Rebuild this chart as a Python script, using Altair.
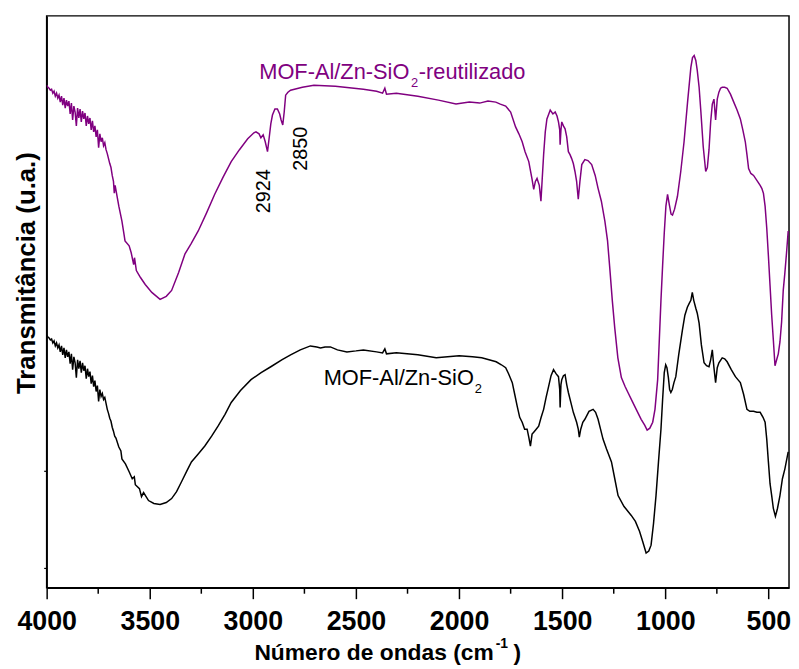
import altair as alt
import pandas as pd

# ---------------- data ----------------
wn_reuse = [4000, 3994, 3988, 3982, 3976, 3970, 3964, 3958, 3952, 3946, 3940, 3934, 3928, 3922, 3916,
            3910, 3904, 3898, 3892, 3886, 3880, 3874, 3868, 3862, 3856, 3850, 3844, 3838, 3832, 3826,
            3820, 3814, 3808, 3802, 3796, 3790, 3784, 3778, 3772, 3766, 3760, 3754, 3748, 3742, 3736,
            3730, 3724, 3718, 3712, 3706, 3700, 3694, 3688, 3682, 3676, 3672, 3668,
            3650, 3635, 3626, 3620, 3600, 3590, 3578, 3574, 3565, 3545, 3522, 3490, 3450, 3420, 3394, 3360,
            3329, 3300, 3265, 3225, 3185, 3145, 3105, 3065, 3025, 2995, 2985, 2970, 2961, 2950, 2940,
            2929, 2922, 2913, 2905, 2893, 2881, 2870, 2863, 2855, 2848, 2841, 2830, 2817, 2760, 2704,
            2600, 2464, 2400, 2371, 2360, 2352, 2304, 2200, 2100, 2015, 1950, 1900, 1860, 1822, 1800,
            1774, 1750, 1726, 1710, 1694, 1680, 1662, 1646, 1638, 1630, 1622, 1611, 1603, 1597, 1590,
            1582, 1574, 1565, 1558, 1545, 1534, 1525, 1518, 1512, 1510, 1506, 1502, 1494, 1486, 1478,
            1470, 1462, 1454, 1446, 1438, 1430, 1422, 1414, 1405, 1390, 1375, 1357, 1340, 1326, 1310,
            1293, 1280, 1269, 1257, 1245, 1230, 1213, 1195, 1181, 1160, 1141, 1117, 1100, 1088, 1075,
            1061, 1050, 1037, 1029, 1021, 1013, 1005, 997, 989, 980, 972, 965, 955, 941, 925,
            909, 892, 876, 868, 860, 852, 845, 836, 828, 816, 804, 796, 788, 780, 772,
            764, 756, 748, 740, 732, 724, 712, 700, 684, 668, 652, 636, 624, 612, 604,
            596, 585, 572, 556, 540, 532, 524, 516, 508, 500, 492, 484, 476, 468, 460,
            452, 444, 436, 428, 420, 412, 404]
t_reuse = [507, 505, 504, 502, 503, 499, 501, 496, 499, 494, 497, 490, 496, 487, 494,
           484, 492, 486, 491, 478, 489, 472, 486, 480, 466, 484, 474, 483, 470, 481,
           473, 479, 466, 476, 468, 474, 462, 471, 460, 466, 455, 462, 444, 458, 450,
           454, 446, 449, 442, 438, 433, 428, 424, 416, 410, 398, 406,
           385, 370, 358, 350, 345, 338, 326, 333, 320, 313, 306, 298, 291, 294, 300, 318,
           337, 347, 360, 378, 397, 414, 430, 442, 453, 459, 460, 458, 454, 457, 450,
           440, 452, 468, 477, 483, 483, 478, 472, 467, 480, 497, 500, 502, 505, 507,
           506, 503, 501, 499, 504, 498, 499, 496, 492, 488, 490, 489, 491, 490, 488,
           486, 480, 465, 458, 450, 440, 430, 412, 402, 410, 413, 406, 390, 412, 437,
           460, 473, 478, 482, 478, 480, 476, 470, 462, 447, 462, 470, 466, 463, 455,
           440, 437, 433, 428, 420, 410, 392, 410, 427, 432, 431, 427, 416, 403, 390,
           370, 350, 322, 290, 262, 232, 212, 203, 197, 188, 180, 170, 164, 159, 161,
           167, 180, 210, 250, 290, 325, 358, 385, 397, 386, 377, 376, 382, 395, 420,
           450, 490, 525, 535, 537, 532, 522, 505, 482, 445, 420, 424, 442, 470, 488,
           493, 472, 493, 500, 504, 505, 505, 504, 498, 490, 482, 473, 462, 450, 437,
           423, 418, 416, 411, 406, 403, 398, 385, 363, 335, 305, 275, 250, 224, 230,
           236, 248, 268, 300, 318, 338, 360]

wn_fresh = [4000, 3994, 3988, 3982, 3976, 3970, 3964, 3958, 3952, 3946, 3940, 3934, 3928, 3922, 3916,
            3910, 3904, 3898, 3892, 3886, 3880, 3874, 3868, 3862, 3856, 3850, 3844, 3838, 3832, 3826,
            3820, 3814, 3808, 3802, 3796, 3790, 3784, 3778, 3772, 3766, 3760, 3754, 3748, 3742, 3736,
            3730, 3724, 3718, 3712, 3706, 3700, 3694, 3688, 3682, 3676, 3670, 3664,
            3650, 3640, 3635, 3618, 3600, 3585, 3575, 3570, 3550, 3540, 3530, 3506, 3480, 3450,
            3420, 3394, 3370, 3346, 3320, 3298, 3265, 3233, 3200, 3169, 3135, 3105, 3060, 3009, 2960,
            2913, 2860, 2817, 2770, 2721, 2690, 2672, 2650, 2624, 2590, 2544, 2500, 2464, 2400, 2371,
            2360, 2352, 2304, 2200, 2111, 2000, 1935, 1890, 1855, 1820, 1795, 1774, 1760, 1742, 1730,
            1718, 1706, 1694, 1682, 1670, 1662, 1654, 1646, 1638, 1626, 1614, 1602, 1590, 1578, 1566,
            1554, 1542, 1530, 1518, 1512, 1510, 1506, 1502, 1494, 1486, 1478, 1470, 1458, 1446, 1438,
            1430, 1422, 1417, 1410, 1400, 1390, 1370, 1350, 1338, 1326, 1314, 1302, 1285, 1261, 1245,
            1229, 1200, 1165, 1145, 1125, 1110, 1093, 1080, 1069, 1057, 1045, 1033, 1021, 1013, 1005,
            998, 992, 985, 979, 973, 966, 958, 949, 935, 917, 905, 893, 884, 876, 869,
            862, 852, 845, 836, 825, 812, 800, 788, 780, 772, 764, 756, 748, 740, 724,
            712, 700, 680, 660, 648, 636, 620, 604, 590, 572, 556, 540, 526, 516, 508,
            500, 492, 484, 476, 466, 456, 444, 432, 420, 404]
t_fresh = [255, 253, 252, 250, 251, 247, 249, 244, 247, 242, 245, 238, 244, 235, 242,
           232, 240, 233, 238, 226, 236, 220, 233, 227, 212, 230, 221, 229, 217, 227,
           219, 224, 211, 221, 213, 218, 206, 214, 203, 209, 198, 204, 188, 200, 193,
           196, 190, 192, 186, 180, 176, 171, 168, 162, 158, 153, 151,
           142, 138, 130, 125, 117, 110, 112, 104, 100, 92, 96, 88, 85, 84,
           86, 90, 97, 107, 118, 127, 135, 143, 153, 163, 175, 187, 199, 210, 217,
           223, 230, 235, 240, 244, 243, 242, 243, 243, 240, 238, 239, 240, 238, 237,
           241, 236, 237, 235, 232, 234, 233, 232, 230, 228, 225, 222, 216, 207, 195,
           183, 172, 167, 160, 160, 152, 143, 155, 157, 160, 163, 172, 180, 192, 203,
           214, 220, 216, 213, 200, 182, 205, 210, 214, 215, 205, 197, 187, 177, 172,
           167, 160, 152, 160, 167, 170, 178, 180, 177, 170, 160, 150, 140, 127, 110,
           93, 82, 73, 67, 57, 47, 35, 37, 43, 65, 93, 127, 160, 190, 217,
           225, 222, 212, 200, 197, 200, 207, 213, 235, 260, 275, 283, 287, 290, 298,
           290, 282, 277, 267, 245, 227, 224, 223, 230, 240, 222, 207, 222, 227, 232,
           231, 228, 220, 213, 210, 207, 195, 180, 178, 178, 177, 177, 172, 167, 150,
           127, 105, 93, 80, 72, 80, 93, 110, 120, 137]

series_names = ["MOF-Al/Zn-SiO2-reutilizado", "MOF-Al/Zn-SiO2"]
series_colors = ["#800080", "#000000"]

x_major = [4000, 3500, 3000, 2500, 2000, 1500, 1000, 500]
x_minor = [3750, 3250, 2750, 2250, 1750, 1250, 750]
y_ticks = [20, 118]

x_title_parts = ["Número de ondas (cm", "-1", ")"]
y_title = "Transmitância (u.a.)"
label_reuse_parts = ["MOF-Al/Zn-SiO", "2", "-reutilizado"]
label_fresh_parts = ["MOF-Al/Zn-SiO", "2"]
peak_labels = ["2924", "2850"]

# ---------------- chart ----------------
df = pd.concat([
    pd.DataFrame({"wn": wn_reuse, "t": t_reuse, "serie": series_names[0]}),
    pd.DataFrame({"wn": wn_fresh, "t": t_fresh, "serie": series_names[1]}),
])

FONT = "Liberation Sans"
xs = alt.Scale(domain=[400, 4000], reverse=True, nice=False, zero=False)
ys = alt.Scale(domain=[0, 577], nice=False, zero=False)

x_axis = alt.Axis(
    values=x_major, format="d", tickSize=11, tickWidth=1.5, tickColor="black",
    domainColor="black", domainWidth=1.5, labelFont=FONT, labelFontWeight="bold",
    labelFontSize=27, labelColor="black", labelBaseline="alphabetic", labelPadding=31,
    labelFlush=False, labelOverlap=False, grid=False, title=None)

lines = alt.Chart(df).mark_line(strokeWidth=1.5, clip=True).encode(
    x=alt.X("wn:Q", scale=xs, axis=x_axis),
    y=alt.Y("t:Q", scale=ys, axis=alt.Axis(
        values=y_ticks, labels=False, tickSize=3, tickWidth=1.2, tickColor="black",
        domainColor="black", domainWidth=1.5, grid=False, title=y_title,
        titleFont=FONT, titleFontSize=26, titleFontWeight="bold", titleColor="black",
        titleAngle=270, titleX=-12, titleY=259, titleAlign="center",
        titleBaseline="alphabetic")),
    color=alt.Color("serie:N", scale=alt.Scale(domain=series_names, range=series_colors),
                    legend=None),
    detail="serie:N",
)

minor = alt.Chart(pd.DataFrame({"wn": x_minor})).mark_rule(
    color="black", strokeWidth=1.5).encode(
    x=alt.X("wn:Q", scale=xs, axis=x_axis), y=alt.value(577), y2=alt.value(583))

one = pd.DataFrame({"a": [0]})


def txt(s, x, y, size, color="black", weight="normal", align="left", angle=0,
        baseline="alphabetic"):
    return alt.Chart(one).mark_text(
        text=s, font=FONT, fontSize=size, fontWeight=weight, color=color,
        align=align, baseline=baseline, angle=angle).encode(
        x=alt.value(x), y=alt.value(y))


texts = [
    # x-axis title with superscript
    txt(x_title_parts[0], 451, 650, 23, weight="bold", align="right"),
    txt(x_title_parts[1], 453, 638, 14, weight="bold"),
    txt(x_title_parts[2], 471, 650, 23, weight="bold"),
    # purple series label
    txt(label_reuse_parts[0], 214.5, 63.5, 22, color=series_colors[0]),
    txt(label_reuse_parts[1], 367.5, 72, 13, color=series_colors[0]),
    txt(label_reuse_parts[2], 375.5, 63.5, 22, color=series_colors[0]),
    # black series label
    txt(label_fresh_parts[0], 279.5, 372, 22),
    txt(label_fresh_parts[1], 432, 380.5, 13),
    # peak labels (rotated)
    txt(peak_labels[0], 219, 177, 20, align="center", angle=270, baseline="middle"),
    txt(peak_labels[1], 257, 134, 20, align="center", angle=270, baseline="middle"),
]

chart = alt.layer(lines, minor, *texts).properties(
    width=749, height=577,
    padding={"left": 39, "top": 5, "right": 2, "bottom": 78},
    autosize=alt.AutoSizeParams(type="none"),
).configure_view(stroke="black", strokeWidth=1.5)

chart.save("out.html", embed_options={"renderer": "svg", "actions": False})
